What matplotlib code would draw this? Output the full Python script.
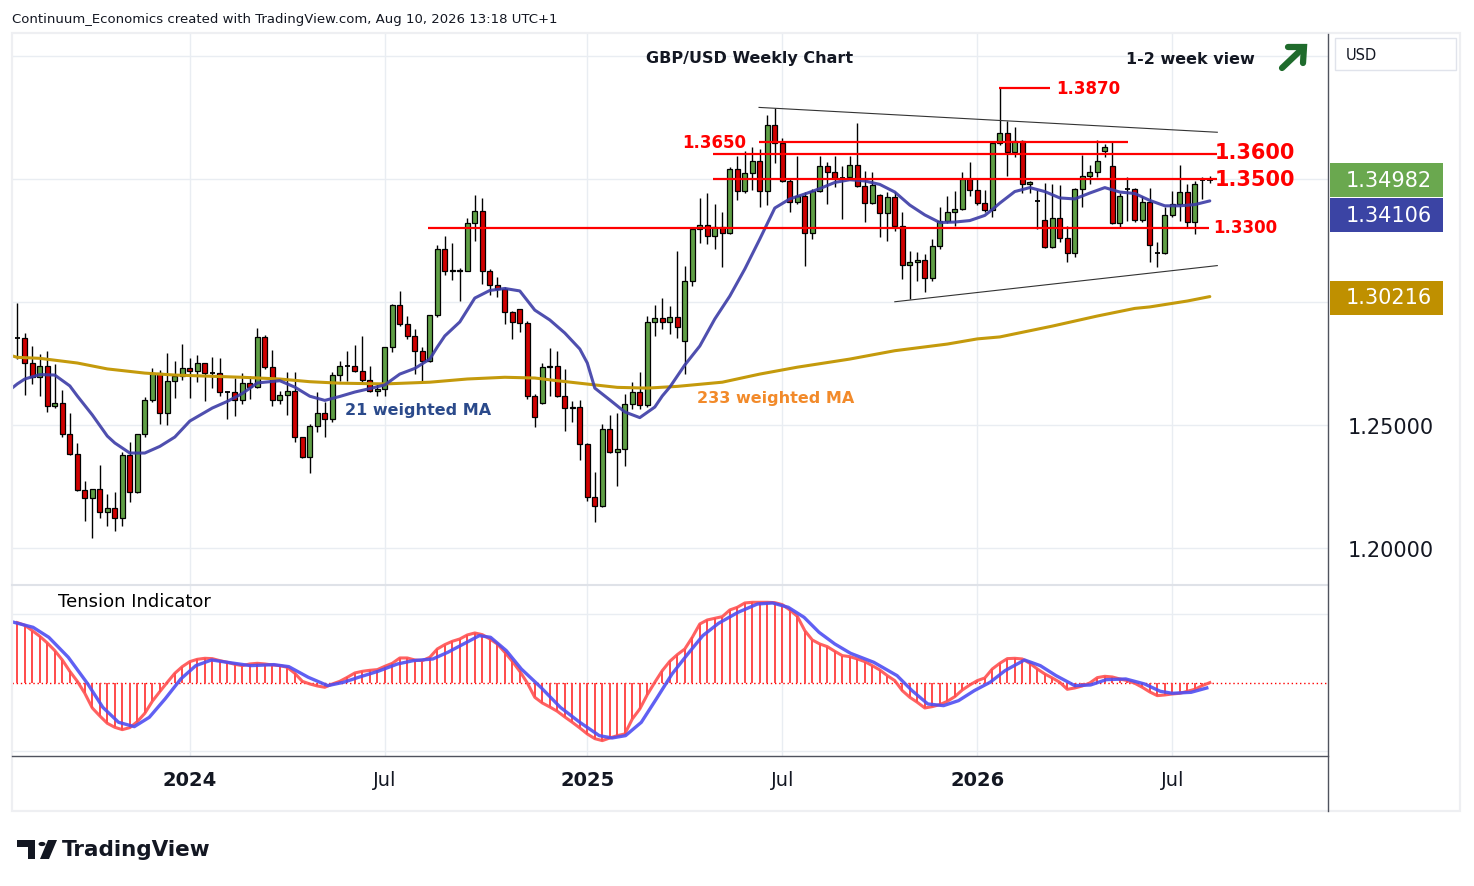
import numpy as np
import pandas as pd
import matplotlib
matplotlib.use("Agg")
import matplotlib.pyplot as plt
from matplotlib.patches import Rectangle, Polygon, Circle
from matplotlib.lines import Line2D

# weekly GBP/USD candles, first bar = week of 24 Jul 2023
first_open = 1.2852
close = [1.2852,
         1.2752, 1.2694, 1.2739, 1.2576, 1.2589, 1.2462, 1.2381, 1.2237, 1.2202, 1.2239,
         1.2145, 1.2161, 1.2121, 1.2378, 1.2226, 1.2462, 1.2600, 1.2710, 1.2548, 1.2678,
         1.2698, 1.2730, 1.2718, 1.2751, 1.2710, 1.2710, 1.2633, 1.2633, 1.2600, 1.2670,
         1.2653, 1.2857, 1.2735, 1.2600, 1.2621, 1.2637, 1.2450, 1.2369, 1.2495, 1.2548,
         1.2524, 1.2702, 1.2739, 1.2741, 1.2718, 1.2684, 1.2639, 1.2646, 1.2816, 1.2988,
         1.2911, 1.2863, 1.2802, 1.2761, 1.2947, 1.3215, 1.3125, 1.3131, 1.3127, 1.3321,
         1.3371, 1.3125, 1.3069, 1.3053, 1.2961, 1.2917, 1.2915, 1.2619, 1.2531, 1.2735,
         1.2741, 1.2619, 1.2568, 1.2574, 1.2423, 1.2206, 1.2170, 1.2484, 1.2391, 1.2402,
         1.2585, 1.2633, 1.2581, 1.2920, 1.2934, 1.2917, 1.2938, 1.2897, 1.3087, 1.3297,
         1.3313, 1.3267, 1.3304, 1.3280, 1.3541, 1.3450, 1.3524, 1.3572, 1.3452, 1.3720,
         1.3646, 1.3493, 1.3405, 1.3432, 1.3279, 1.3450, 1.3552, 1.3527, 1.3504, 1.3507,
         1.3558, 1.3470, 1.3402, 1.3477, 1.3362, 1.3426, 1.3308, 1.3152, 1.3161, 1.3172,
         1.3096, 1.3229, 1.3330, 1.3367, 1.3378, 1.3500, 1.3457, 1.3402, 1.3375, 1.3646,
         1.3687, 1.3609, 1.3656, 1.3480, 1.3487, 1.3408, 1.3222, 1.3340, 1.3259, 1.3199,
         1.3459, 1.3513, 1.3530, 1.3574, 1.3629, 1.3321, 1.3430, 1.3459, 1.3335, 1.3405,
         1.3232, 1.3199, 1.3354, 1.3398, 1.3448, 1.3324, 1.3480, 1.3497, 1.3498]
high = [1.2996,
        1.2874, 1.2822, 1.2789, 1.2801, 1.2748, 1.2642, 1.2549, 1.2427, 1.2271, 1.2241,
        1.2337, 1.2220, 1.2226, 1.2389, 1.2430, 1.2465, 1.2613, 1.2730, 1.2724, 1.2793,
        1.2761, 1.2829, 1.2771, 1.2785, 1.2752, 1.2775, 1.2771, 1.2639, 1.2690, 1.2710,
        1.2700, 1.2893, 1.2866, 1.2804, 1.2639, 1.2714, 1.2714, 1.2451, 1.2504, 1.2633,
        1.2592, 1.2714, 1.2759, 1.2800, 1.2825, 1.2863, 1.2739, 1.2667, 1.2818, 1.2992,
        1.3046, 1.2944, 1.2890, 1.2816, 1.2949, 1.3232, 1.3267, 1.3240, 1.3137, 1.3340,
        1.3435, 1.3422, 1.3134, 1.3100, 1.3062, 1.2965, 1.2972, 1.2924, 1.2625, 1.2752,
        1.2812, 1.2800, 1.2728, 1.2596, 1.2603, 1.2427, 1.2308, 1.2504, 1.2541, 1.2549,
        1.2626, 1.2676, 1.2717, 1.2944, 1.2988, 1.3015, 1.2985, 1.3209, 1.3148, 1.3304,
        1.3422, 1.3442, 1.3398, 1.3365, 1.3548, 1.3592, 1.3615, 1.3629, 1.3622, 1.3760,
        1.3787, 1.3665, 1.3500, 1.3592, 1.3446, 1.3459, 1.3592, 1.3568, 1.3595, 1.3554,
        1.3592, 1.3728, 1.3534, 1.3530, 1.3439, 1.3446, 1.3446, 1.3365, 1.3209, 1.3202,
        1.3195, 1.3256, 1.3385, 1.3432, 1.3452, 1.3530, 1.3568, 1.3500, 1.3457, 1.3648,
        1.3873, 1.3737, 1.3710, 1.3660, 1.3493, 1.3457, 1.3484, 1.3480, 1.3476, 1.3310,
        1.3462, 1.3598, 1.3557, 1.3660, 1.3642, 1.3656, 1.3443, 1.3507, 1.3462, 1.3432,
        1.3462, 1.3243, 1.3385, 1.3452, 1.3557, 1.3480, 1.3493, 1.3507, 1.3511]
low = [1.2768,
       1.2622, 1.2667, 1.2619, 1.2552, 1.2568, 1.2450, 1.2378, 1.2233, 1.2111, 1.2039,
       1.2123, 1.2091, 1.2070, 1.2091, 1.2188, 1.2222, 1.2450, 1.2592, 1.2504, 1.2500,
       1.2611, 1.2684, 1.2611, 1.2676, 1.2599, 1.2650, 1.2619, 1.2524, 1.2538, 1.2584,
       1.2606, 1.2650, 1.2728, 1.2578, 1.2585, 1.2541, 1.2430, 1.2366, 1.2304, 1.2470,
       1.2450, 1.2511, 1.2680, 1.2680, 1.2714, 1.2667, 1.2633, 1.2617, 1.2619, 1.2796,
       1.2904, 1.2850, 1.2707, 1.2674, 1.2755, 1.2938, 1.3110, 1.3091, 1.3005, 1.3125,
       1.3249, 1.3073, 1.3028, 1.3019, 1.2911, 1.2850, 1.2880, 1.2606, 1.2491, 1.2585,
       1.2619, 1.2613, 1.2477, 1.2511, 1.2359, 1.2192, 1.2104, 1.2165, 1.2386, 1.2251,
       1.2335, 1.2565, 1.2565, 1.2575, 1.2861, 1.2890, 1.2870, 1.2853, 1.2707, 1.3066,
       1.3240, 1.3236, 1.3215, 1.3141, 1.3276, 1.3416, 1.3445, 1.3457, 1.3385, 1.3394,
       1.3565, 1.3487, 1.3367, 1.3400, 1.3148, 1.3256, 1.3446, 1.3398, 1.3466, 1.3337,
       1.3500, 1.3466, 1.3326, 1.3398, 1.3263, 1.3249, 1.3290, 1.3094, 1.3012, 1.3087,
       1.3039, 1.3087, 1.3215, 1.3321, 1.3310, 1.3375, 1.3432, 1.3394, 1.3365, 1.3344,
       1.3640, 1.3511, 1.3588, 1.3443, 1.3443, 1.3297, 1.3220, 1.3218, 1.3243, 1.3161,
       1.3182, 1.3385, 1.3480, 1.3507, 1.3588, 1.3317, 1.3304, 1.3330, 1.3326, 1.3324,
       1.3164, 1.3141, 1.3195, 1.3344, 1.3330, 1.3304, 1.3276, 1.3419, 1.3484]
# weeks that opened away from the previous close
gap_open = {67: 1.2970, 70: 1.2588, 89: 1.2843, 115: 1.3436, 136: 1.3410,
            137: 1.3335, 145: 1.3612, 146: 1.3554, 148: 1.3457, 152: 1.3201,
            158: 1.3495}

# moving averages (bar index, value)
wma21_idx = [-0.7, 0, 1, 3, 5, 7, 8, 10, 12, 13, 15, 17, 19, 21, 23, 26, 28, 30, 32, 35, 37,
             39, 41, 43, 45, 47, 49, 51, 53, 55, 56, 57, 59, 61, 63, 65, 67, 69, 71, 73, 75,
             76, 77, 79, 81, 83, 85, 86, 87, 89, 91, 93, 95, 97, 99, 101, 103, 105, 107, 109, 111,
             113, 115, 117, 119, 121, 123, 125, 127, 129, 130, 131, 133, 135, 137, 139, 141, 143, 145, 147, 149,
             151, 153, 155, 157, 159]
wma21 = [1.2650, 1.2667, 1.2687, 1.2705, 1.2703, 1.2659, 1.2618, 1.2541, 1.2455, 1.2427, 1.2386,
         1.2386, 1.2413, 1.2451, 1.2516, 1.2569, 1.2596, 1.2628, 1.2671, 1.2680, 1.2654,
         1.2617, 1.2600, 1.2616, 1.2634, 1.2648, 1.2663, 1.2707, 1.2730, 1.2768, 1.2817,
         1.2862, 1.2919, 1.3016, 1.3047, 1.3055, 1.3045, 1.2967, 1.2927, 1.2874, 1.2809,
         1.2752, 1.2650, 1.2602, 1.2553, 1.2530, 1.2573, 1.2618, 1.2654, 1.2744, 1.2821,
         1.2931, 1.3024, 1.3134, 1.3256, 1.3382, 1.3419, 1.3439, 1.3461, 1.3486, 1.3497,
         1.3492, 1.3478, 1.3447, 1.3394, 1.3354, 1.3323, 1.3325, 1.3331, 1.3352, 1.3376,
         1.3402, 1.3449, 1.3465, 1.3449, 1.3423, 1.3419, 1.3443, 1.3465, 1.3447, 1.3441,
         1.3413, 1.3391, 1.3391, 1.3396, 1.3411]
wma233_idx = [-0.7, 0, 3, 8, 12, 17, 21, 26, 30, 35, 39, 43, 49, 55, 60, 65, 69, 72, 77, 80, 84,
              88, 94, 99, 104, 111, 117, 124, 128, 131, 138, 144, 149, 151, 156, 159]
wma233 = [1.2781, 1.2775, 1.2771, 1.2752, 1.2728, 1.2711, 1.2703, 1.2698, 1.2694, 1.2687, 1.2676,
          1.2670, 1.2667, 1.2674, 1.2687, 1.2694, 1.2691, 1.2680, 1.2663, 1.2653, 1.2650,
          1.2657, 1.2674, 1.2707, 1.2735, 1.2768, 1.2802, 1.2829, 1.2850, 1.2858, 1.2902,
          1.2943, 1.2974, 1.2980, 1.3004, 1.3022]

# tension indicator (arbitrary units), one value per bar, plus its signal line
tension = [1.82, 1.74, 1.58, 1.41, 1.21, 0.98, 0.70, 0.36, 0.06, -0.30,
           -0.74, -0.98, -1.20, -1.32, -1.39, -1.33, -1.15, -0.90, -0.54, -0.25,
           0.03, 0.30, 0.50, 0.65, 0.72, 0.75, 0.74, 0.68, 0.63, 0.57,
           0.53, 0.58, 0.60, 0.58, 0.55, 0.53, 0.48, 0.30, 0.06, -0.02,
           -0.08, -0.12, -0.02, 0.06, 0.18, 0.31, 0.36, 0.39, 0.41, 0.51,
           0.60, 0.76, 0.76, 0.70, 0.68, 0.78, 1.03, 1.16, 1.26, 1.33,
           1.45, 1.51, 1.46, 1.33, 1.18, 0.93, 0.66, 0.36, 0.01, -0.42,
           -0.59, -0.71, -0.84, -1.01, -1.17, -1.34, -1.52, -1.66, -1.72, -1.64,
           -1.57, -1.52, -1.07, -0.77, -0.34, 0.03, 0.38, 0.66, 0.86, 1.03,
           1.38, 1.78, 1.90, 1.95, 2.00, 2.20, 2.28, 2.41, 2.43, 2.43,
           2.43, 2.42, 2.36, 2.20, 2.01, 1.58, 1.30, 1.18, 1.10, 0.96,
           0.83, 0.80, 0.73, 0.65, 0.53, 0.40, 0.23, 0.08, -0.22, -0.42,
           -0.57, -0.74, -0.70, -0.64, -0.54, -0.40, -0.20, -0.05, 0.08, 0.16,
           0.43, 0.60, 0.74, 0.75, 0.73, 0.60, 0.43, 0.28, 0.16, 0.03,
           -0.18, -0.14, -0.08, 0.01, 0.17, 0.21, 0.19, 0.13, 0.08, 0.00,
           -0.12, -0.26, -0.37, -0.35, -0.32, -0.30, -0.24, -0.18, -0.07, 0.02]
sig_idx = [-0.45, 2.1, 4.2, 6.8, 9.4, 11.4, 13.5, 15.6, 17.6, 19.7,
           21.8, 23.8, 25.9, 28.0, 31.1, 34.2, 36.2, 38.8, 41.4, 43.5,
           45.5, 48.1, 50.7, 52.8, 55.4, 57.4, 59.5, 61.6, 63.1, 65.2,
           67.2, 69.8, 72.4, 75.0, 77.6, 79.3, 81.1, 83.2, 85.2, 87.3,
           89.4, 91.4, 93.5, 96.1, 98.7, 100.7, 102.8, 104.9, 106.9, 109.0,
           111.1, 114.2, 117.3, 119.3, 121.4, 123.5, 125.5, 127.6, 129.7, 131.7,
           134.3, 136.4, 138.5, 141.0, 143.1, 145.2, 147.8, 150.3, 152.4, 154.0,
           156.5, 158.6]
sig_val = [1.83, 1.68, 1.38, 0.78, -0.02, -0.72, -1.17, -1.30, -1.02, -0.47,
           0.13, 0.53, 0.70, 0.63, 0.53, 0.56, 0.50, 0.18, -0.07, 0.03,
           0.18, 0.36, 0.58, 0.68, 0.73, 0.93, 1.18, 1.43, 1.38, 0.98,
           0.43, -0.12, -0.72, -1.17, -1.57, -1.64, -1.57, -1.17, -0.47, 0.28,
           0.88, 1.43, 1.80, 2.13, 2.38, 2.41, 2.28, 1.98, 1.53, 1.18,
           0.90, 0.63, 0.23, -0.22, -0.62, -0.67, -0.52, -0.22, 0.03, 0.38,
           0.70, 0.53, 0.23, -0.07, -0.05, 0.11, 0.13, -0.02, -0.24, -0.30,
           -0.27, -0.14]

# marked levels
levels = [1.3870, 1.3650, 1.3600, 1.3500, 1.3300]
level_x0 = [130.9, 98.9, 92.8, 92.8, 54.8]
level_x1 = [137.7, 148.1, 159.9, 159.9, 158.9]
# channel lines (bar index, price)
upper_line = ([98.9, 160.0], [1.3791, 1.3690])
lower_line = ([117.0, 160.0], [1.3001, 1.3148])

last_price = 1.34982
last_wma21 = 1.34106
last_wma233 = 1.30216
price_ticks = [1.20, 1.25, 1.30, 1.35, 1.40]

W, H = 1474, 887
GREEN, RED = "#5f9f45", "#d00000"
GRID = "#e9edf2"
TXT = "#131722"


def fx(p):
    return p / W


def fy(p):
    return 1 - p / H


n = len(close)
weeks = pd.date_range("2023-07-24", periods=n, freq="W-MON")
x = np.arange(n)
c = np.array(close)
o = np.r_[first_open, c[:-1]]
for k, v in gap_open.items():
    o[k] = v
h = np.array(high)
l = np.array(low)

tick_pos = [i for i, d in enumerate(weeks) if d.month in (1, 7) and d.day <= 7]
tick_lab = [str(weeks[i].year) if weeks[i].month == 1 else "Jul" for i in tick_pos]

fig = plt.figure(figsize=(W / 100, H / 100), dpi=100)
ax = fig.add_axes([fx(12), fy(585), (1328 - 12) / W, (585 - 35) / H])
axt = fig.add_axes([fx(12), fy(757), (1328 - 12) / W, (757 - 587) / H], sharex=ax)

for a in (ax, axt):
    for s in a.spines.values():
        s.set_visible(False)
    a.set_xticks(tick_pos)
    a.grid(True, color=GRID, lw=1)
    a.set_axisbelow(True)

ax.set_xlim(-0.707, 174.76)
ax.set_ylim(1.185366, 1.408943)
ax.set_yticks(price_ticks)
ax.yaxis.tick_right()
ax.set_yticklabels(["1.20000", "1.25000", "", "", ""], fontsize=15, color=TXT)
ax.tick_params(axis="y", length=0, pad=14)
ax.tick_params(axis="x", length=0, labelbottom=False)

# candles
ax.vlines(x, l, h, color="black", lw=1, zorder=2)
body = np.abs(c - o)
doji = body < 0.0003
cols = np.where(c >= o, GREEN, RED)
ax.bar(x[~doji], body[~doji], bottom=np.minimum(o, c)[~doji], width=0.66,
       color=cols[~doji], edgecolor="black", linewidth=0.9, zorder=3)
ax.hlines(((o + c) / 2)[doji], x[doji] - 0.36, x[doji] + 0.36, color="black", lw=1.3, zorder=3)

# moving averages
ax.plot(wma233_idx, wma233, color="#c49a0c", lw=2.2, zorder=4, solid_capstyle="round")
ax.plot(wma21_idx, wma21, color="#3c3ca6", lw=2.2, alpha=0.9, zorder=4, solid_capstyle="round")
ax.text(43.7, 1.2561, "21 weighted MA", color="#2b4a8b", fontsize=11.5, fontweight="bold", va="center")
ax.text(90.6, 1.2610, "233 weighted MA", color="#f28a2a", fontsize=11.5, fontweight="bold", va="center")

# levels and channel
for lv, a0, a1 in zip(levels, level_x0, level_x1):
    ax.hlines(lv, a0, a1, color="#ff0000", lw=1.6, zorder=5)
ax.text(138.5, levels[0], "1.3870", color="#ff0000", fontsize=12, fontweight="bold", va="center")
ax.text(97.2, levels[1], "1.3650", color="#ff0000", fontsize=12, fontweight="bold", va="center", ha="right")
ax.text(159.7, levels[2] + 0.0009, "1.3600", color="#ff0000", fontsize=15, fontweight="bold", va="center")
ax.text(159.7, levels[3], "1.3500", color="#ff0000", fontsize=15, fontweight="bold", va="center")
ax.text(159.4, levels[4] + 0.0005, "1.3300", color="#ff0000", fontsize=12, fontweight="bold", va="center")
ax.plot(*upper_line, color="#333333", lw=0.8, zorder=5)
ax.plot(*lower_line, color="#333333", lw=0.8, zorder=5)

# tension indicator panel
axt.set_ylim(-2.181, 2.919)
axt.set_yticks([-2.03, 2.08])
axt.tick_params(axis="y", length=0, labelright=False, labelleft=False)
axt.tick_params(axis="x", length=0, pad=10)
axt.set_xticklabels(tick_lab, fontsize=14, color=TXT)
for t in axt.get_xticklabels():
    if t.get_text() != "Jul":
        t.set_fontweight("bold")
axt.vlines(x, 0, tension, color="#ff3d3d", lw=1.3, zorder=2)
axt.plot(x, tension, color="#ff5050", lw=2.2, alpha=0.9, zorder=3)
axt.plot(sig_idx, sig_val, color="#4f4ff2", lw=2.4, alpha=0.9, zorder=4)
axt.axhline(0, color="#ff0000", lw=1, ls=(0, (1, 2)), zorder=1)
fig.text(fx(58), fy(602), "Tension Indicator", fontsize=13, color="black", va="center")

# frame lines
fig.patches.append(Rectangle((fx(12), fy(812)), (1460 - 12) / W, (812 - 34) / H,
                             transform=fig.transFigure, fill=False, edgecolor="#eeeff2", lw=1.6))
fig.add_artist(Line2D([fx(12), fx(1328)], [fy(585.5), fy(585.5)], color="#dfe2e8", lw=1.5))
fig.add_artist(Line2D([fx(1328), fx(1328)], [fy(35), fy(812)], color="#50535e", lw=1))
fig.add_artist(Line2D([fx(12), fx(1328)], [fy(757), fy(757)], color="#50535e", lw=1))

# price tags on the right scale
for val, yc, col in [(last_price, 181, "#6aa84f"), (last_wma21, 216, "#3b44a4"),
                     (last_wma233, 298.5, "#bf9000")]:
    fig.patches.append(Rectangle((fx(1330), fy(yc + 17)), 113 / W, 34 / H,
                                 transform=fig.transFigure, facecolor=col, edgecolor="none"))
    fig.text(fx(1389), fy(yc), f"{val:.5f}", color="white", fontsize=15, ha="center", va="center")

fig.patches.append(Rectangle((fx(1335), fy(71)), 121 / W, 32 / H, transform=fig.transFigure,
                             facecolor="white", edgecolor="#e0e3eb", lw=1))
fig.text(fx(1346), fy(55), "USD", fontsize=10.5, color=TXT, va="center")

# headings
fig.text(fx(12), fy(19), "Continuum_Economics created with TradingView.com, Aug 10, 2026 13:18 UTC+1",
         fontsize=9.5, color=TXT, va="center")
fig.text(fx(750), fy(58), "GBP/USD Weekly Chart", fontsize=11.5, fontweight="bold", color=TXT,
         ha="center", va="center")
fig.text(fx(1190), fy(59), "1-2 week view", fontsize=11.5, fontweight="bold", color=TXT,
         ha="center", va="center")
arrow_col = "#1f6b2c"
fig.add_artist(Line2D([fx(1282), fx(1303)], [fy(69), fy(49)], color=arrow_col, lw=4.5,
                      solid_capstyle="round"))
fig.add_artist(Line2D([fx(1288), fx(1304), fx(1303)], [fy(48), fy(48), fy(64)], color=arrow_col,
                      lw=4.5, solid_capstyle="round", solid_joinstyle="miter"))

# TradingView logo
fig.patches.append(Polygon([(fx(17), fy(841)), (fx(35), fy(841)), (fx(35), fy(860)), (fx(28), fy(860)),
                            (fx(28), fy(848)), (fx(17), fy(848))], closed=True,
                           transform=fig.transFigure, facecolor=TXT, edgecolor="none"))
fig.patches.append(Circle((fx(42), fy(845)), 3.5 / W, transform=fig.transFigure, facecolor=TXT))
fig.patches.append(Polygon([(fx(48), fy(841)), (fx(57), fy(841)), (fx(49), fy(860)), (fx(40), fy(860))],
                           closed=True, transform=fig.transFigure, facecolor=TXT, edgecolor="none"))
fig.text(fx(62), fy(850), "TradingView", fontsize=15.5, fontweight="bold", color=TXT, va="center")

fig.savefig("out.png", dpi=100, facecolor="white")
